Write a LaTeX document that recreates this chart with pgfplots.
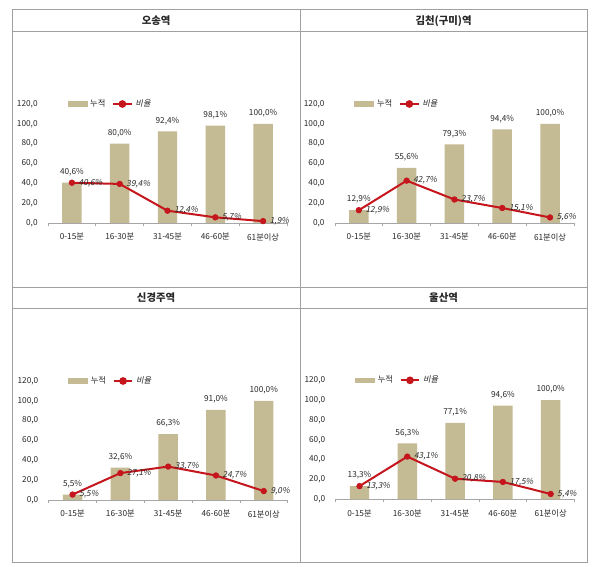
\documentclass[border=0pt]{standalone}
\usepackage{pgfplots}
\pgfplotsset{compat=1.18}
\usepackage{fontspec}
\setmainfont{Noto Sans CJK KR}
\newfontfamily\krit[FakeSlant=0.2]{Noto Sans CJK KR}
\definecolor{bartan}{RGB}{196,186,148}
\definecolor{linered}{RGB}{196,22,28}
\definecolor{tblgray}{RGB}{160,160,160}
\definecolor{txt}{RGB}{40,40,40}
\newcommand{\chartfont}{\fontsize{6.2}{7}\selectfont}

\pgfplotsset{
 stationchart/.style={
  scale only axis, width=179.25pt, height=89.25pt, anchor=south west,
  xmin=-0.5, xmax=4.5, ymin=0, ymax=120,
  axis x line*=bottom, axis y line*=left,
  y axis line style={draw=none},
  x axis line style={draw=gray!70, line width=0.6pt},
  ytick={0,20,...,120},
  ytick style={draw=none},
  xtick={0,1,2,3,4},
  xticklabels={0-15분,16-30분,31-45분,46-60분,61분이상},
  xtick style={draw=none},
  minor xtick={-0.5,0.5,1.5,2.5,3.5,4.5},
  minor tick length=2pt, tick align=outside,
  minor x tick style={draw=gray!70, line width=0.5pt},
  yticklabel style={/pgf/number format/.cd, fixed, fixed zerofill, precision=1, use comma, assume math mode=true},
  tick label style={font=\chartfont, text=txt},
  clip=false,
  legend style={at={(0.075,1.0)}, anchor=west, draw=none, fill=none,
    legend columns=2, font=\chartfont, text=txt, inner sep=1pt,
    /tikz/every even column/.append style={column sep=3pt}},
  legend cell align=left,
 },
 cumbars/.style={
  ybar, bar width=14.6pt, fill=bartan, draw=none,
  nodes near coords={\pgfmathprintnumber[fixed,fixed zerofill,precision=1,use comma,assume math mode=true]{\pgfplotspointmeta}\%},
  every node near coord/.append style={font=\chartfont, text=txt, yshift=1.5pt},
  legend image code/.code={\fill[bartan] (0pt,-2pt) rectangle (15pt,2pt);},
 },
 ratioline/.style={
  linered, line width=1.5pt, mark=*, mark size=2.1pt,
  mark options={fill=linered, draw=linered, line width=0.5pt},
  nodes near coords={\pgfmathprintnumber[fixed,fixed zerofill,precision=1,use comma,assume math mode=true]{\pgfplotspointmeta}\%},
  nodes near coords align={horizontal},
  every node near coord/.append style={font=\krit\chartfont, text=txt, xshift=1.5pt},
  legend image code/.code={\draw[linered,line width=1.5pt] (0pt,0pt) -- (14pt,0pt); \fill[linered] (7pt,0pt) circle (2.1pt);},
 },
}

\begin{document}
\begin{tikzpicture}[x=1pt,y=1pt]
\useasboundingbox (0,0) rectangle (450.75,425.25);
% table frame
\draw[tblgray, line width=0.75pt] (9,3) rectangle (440.25,417.75);
\draw[tblgray, line width=0.75pt] (9,401.25) -- (440.25,401.25);
\draw[tblgray, line width=0.75pt] (9,209.8) -- (440.25,209.8);
\draw[tblgray, line width=0.75pt] (9,193.9) -- (440.25,193.9);
\draw[tblgray, line width=0.75pt] (225.2,3) -- (225.2,417.75);
% headers
\node[font=\fontsize{7.8}{9}\selectfont\bfseries, text=txt] at (117.1,409.5) {오송역};
\node[font=\fontsize{7.8}{9}\selectfont\bfseries, text=txt] at (332.7,409.5) {김천(구미)역};
\node[font=\fontsize{7.8}{9}\selectfont\bfseries, text=txt] at (117.1,201.8) {신경주역};
\node[font=\fontsize{7.8}{9}\selectfont\bfseries, text=txt] at (332.7,201.8) {울산역};

% Osong
\begin{axis}[stationchart, at={(36pt,258pt)}]
\addplot[cumbars] coordinates {(0,40.6) (1,80.0) (2,92.4) (3,98.1) (4,100.0)};
\addlegendentry{누적}
\addplot[ratioline] coordinates {(0,40.6) (1,39.4) (2,12.4) (3,5.7) (4,1.9)};
\addlegendentry{\krit 비율}
\end{axis}

% Gimcheon(Gumi)
\begin{axis}[stationchart, at={(251.2pt,258pt)}]
\addplot[cumbars] coordinates {(0,12.9) (1,55.6) (2,79.3) (3,94.4) (4,100.0)};
\addlegendentry{누적}
\addplot[ratioline] coordinates {(0,12.9) (1,42.7) (2,23.7) (3,15.1) (4,5.6)};
\addlegendentry{\krit 비율}
\end{axis}

% Singyeongju
\begin{axis}[stationchart, at={(36.5pt,50.25pt)}]
\addplot[cumbars] coordinates {(0,5.5) (1,32.6) (2,66.3) (3,91.0) (4,100.0)};
\addlegendentry{누적}
\addplot[ratioline] coordinates {(0,5.5) (1,27.1) (2,33.7) (3,24.7) (4,9.0)};
\addlegendentry{\krit 비율}
\end{axis}

% Ulsan
\begin{axis}[stationchart, at={(251.7pt,50.75pt)}]
\addplot[cumbars] coordinates {(0,13.3) (1,56.3) (2,77.1) (3,94.6) (4,100.0)};
\addlegendentry{누적}
\addplot[ratioline] coordinates {(0,13.3) (1,43.1) (2,20.8) (3,17.5) (4,5.4)};
\addlegendentry{\krit 비율}
\end{axis}
\end{tikzpicture}
\end{document}
